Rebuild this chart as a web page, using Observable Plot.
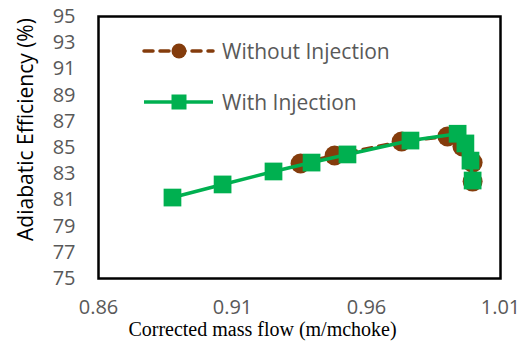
<!DOCTYPE html>
<html><head><meta charset="utf-8">
<script src="https://cdn.jsdelivr.net/npm/d3@7"></script>
<script src="https://cdn.jsdelivr.net/npm/@observablehq/plot@0.6"></script>
<style>
body{margin:0;background:#fff}
#wrap{position:relative;width:522px;height:345px}
.leg{position:absolute;left:140px;display:flex;align-items:center;font-family:"Open Sans",sans-serif;font-size:21px;color:#595959;height:24px}
.leg svg{margin-right:6px}
</style></head>
<body><div id="wrap"></div>
<script>
const xTicks = [0.86, 0.91, 0.96, 1.01];
const yTicks = [75, 77, 79, 81, 83, 85, 87, 89, 91, 93, 95];
const seriesNames = ["Without Injection", "With Injection"];
const xWithout = [0.9354, 0.9481, 0.9731, 0.9902, 0.9958, 0.9996, 0.9996];
const yWithout = [83.78, 84.39, 85.46, 85.84, 85.08, 83.85, 82.40];
const xWith = [0.8876, 0.9063, 0.9253, 0.9395, 0.9529, 0.9764, 0.9940, 0.9969, 0.9988, 0.9996];
const yWith = [81.18, 82.18, 83.17, 83.85, 84.47, 85.53, 86.05, 85.31, 84.00, 82.48];
const brown = "#843C0C", green = "#00B050";

const without = xWithout.map((x, i) => ({x, y: yWithout[i]}));
const withInj = xWith.map((x, i) => ({x, y: yWith[i]}));

const chart = Plot.plot({
  width: 522, height: 345,
  marginLeft: 98, marginRight: 22, marginTop: 16, marginBottom: 67,
  x: {domain: [0.86, 1.01]},
  y: {domain: [75, 95]},
  style: {fontFamily: "Open Sans, sans-serif", background: "white", overflow: "visible"},
  marks: [
    Plot.axisX({ticks: xTicks, tickSize: 0, tickPadding: 21, tickFormat: d3.format(".2f"), fontSize: 20, color: "#595959", label: null}),
    Plot.axisY({ticks: yTicks, tickSize: 0, tickPadding: 23, fontSize: 20, color: "#595959", label: null}),
    Plot.line(without, {x: "x", y: "y", stroke: brown, strokeWidth: 3.5, strokeDasharray: "9,7", strokeLinecap: "round"}),
    Plot.dot(without, {x: "x", y: "y", r: 10, fill: brown, stroke: null}),
    Plot.line(withInj, {x: "x", y: "y", stroke: green, strokeWidth: 3.5}),
    Plot.dot(withInj, {x: "x", y: "y", r: 10, symbol: "square", fill: green, stroke: null}),
    Plot.frame({stroke: "black", strokeWidth: 2.5}),
    Plot.text(["Corrected mass flow (m/mchoke)"], {frameAnchor: "bottom", textAnchor: "middle", dx: -37, dy: 57, fontFamily: "Liberation Serif, serif", fontSize: 20, fill: "black"}),
    Plot.text(["Adiabatic Efficiency (%)"], {frameAnchor: "left", textAnchor: "middle", rotate: -90, dx: -72, dy: -18, fontFamily: "Open Sans, sans-serif", fontSize: 21, fill: "black"})
  ]
});
const wrap = document.getElementById("wrap");
wrap.appendChild(chart);

function legItem(top, name, kind, color) {
  const d = document.createElement("div");
  d.className = "leg";
  d.style.top = top + "px";
  const marker = kind === "circle"
    ? `<line x1="4" y1="12" x2="73" y2="12" stroke="${color}" stroke-width="3.5" stroke-dasharray="9,7" stroke-linecap="round"/><circle cx="39" cy="12" r="7.5" fill="${color}"/>`
    : `<line x1="4" y1="12" x2="73" y2="12" stroke="${color}" stroke-width="3.5"/><rect x="31.5" y="4.5" width="15" height="15" fill="${color}"/>`;
  d.innerHTML = `<svg width="76" height="24">${marker}</svg><span>${name}</span>`;
  wrap.appendChild(d);
}
legItem(39, seriesNames[0], "circle", brown);
legItem(90, seriesNames[1], "square", green);
</script>
</body></html>
